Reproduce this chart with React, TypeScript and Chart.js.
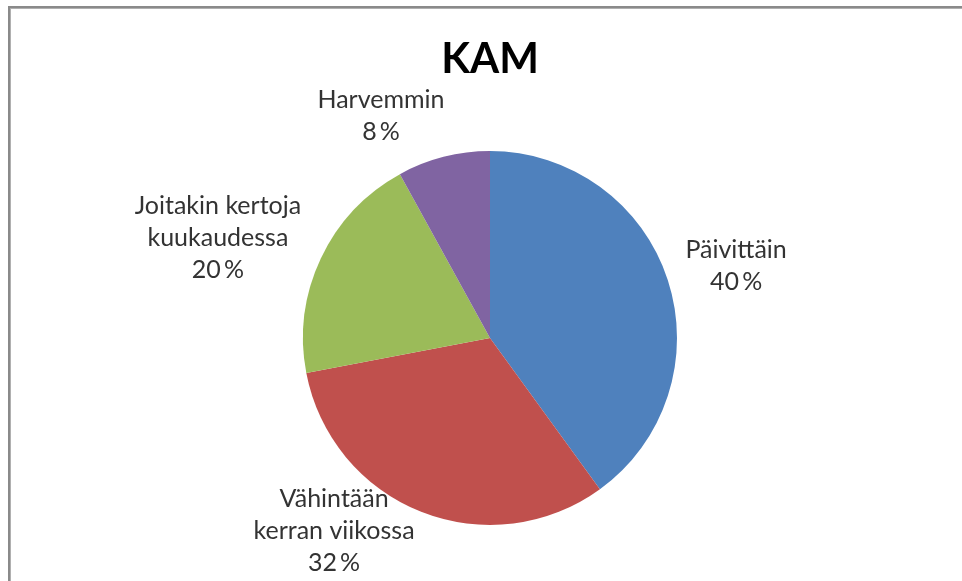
import React, { useEffect, useRef } from "react";
import { Chart, registerables } from "chart.js";

Chart.register(...registerables);

const title = "KAM";
const categories = [
  "Päivittäin",
  "Vähintään kerran viikossa",
  "Joitakin kertoja kuukaudessa",
  "Harvemmin",
];
const labelLines = [
  ["Päivittäin"],
  ["Vähintään", "kerran viikossa"],
  ["Joitakin kertoja", "kuukaudessa"],
  ["Harvemmin"],
];
const values = [40, 32, 20, 8];
const colors = ["#4F81BD", "#C0504D", "#9BBB59", "#8064A2"];

// label block centres relative to pie centre, in units of radius (layout)
const LABEL_OFFSETS = [
  [1.316, -0.39],
  [-0.834, 1.027],
  [-1.455, -0.54],
  [-0.583, -1.193],
];

const FONT = "Lato, 'Open Sans', sans-serif";

const framePlugin = {
  id: "frame",
  beforeDraw(chart: any) {
    const ctx = chart.ctx;
    ctx.save();
    ctx.fillStyle = "#ffffff";
    ctx.fillRect(0, 0, chart.width, chart.height);
    ctx.fillStyle = "#8a8a8a";
    ctx.fillRect(8, 6, chart.width - 8, 2);
    ctx.fillRect(8, 6, 2, chart.height - 6);
    ctx.fillStyle = "#b0b0b0";
    ctx.fillRect(10, 8, chart.width - 10, 1);
    ctx.fillRect(10, 8, 1, chart.height - 8);
    ctx.restore();
  },
};

const labelPlugin = {
  id: "pieLabels",
  afterDraw(chart: any) {
    const ctx = chart.ctx;
    const meta = chart.getDatasetMeta(0);
    const total = values.reduce((a, b) => a + b, 0);
    ctx.save();
    const a0 = meta.data[0];
    const cx = a0.x;
    const cy = a0.y;
    const r = a0.outerRadius;
    ctx.fillStyle = "#000000";
    ctx.font = `bold 42px ${FONT}`;
    ctx.textAlign = "center";
    ctx.textBaseline = "alphabetic";
    ctx.fillText(title, cx, 73);

    ctx.font = `25px ${FONT}`;
    ctx.fillStyle = "#333333";
    const L = 32;
    const capH = 18;
    meta.data.forEach((arc: any, i: number) => {
      const pct = Math.round((values[i] / total) * 100) + "\u2009%";
      const lines = [...labelLines[i], pct];
      const bx = cx + LABEL_OFFSETS[i][0] * r;
      const by = cy + LABEL_OFFSETS[i][1] * r;
      const first = by - ((lines.length - 1) * L) / 2 + capH / 2;
      lines.forEach((t, j) => ctx.fillText(t, bx, first + j * L));
    });
    ctx.restore();
  },
};

export default function App() {
  const ref = useRef<HTMLCanvasElement>(null);
  useEffect(() => {
    if (!ref.current) return;
    const chart = new Chart(ref.current, {
      type: "pie",
      data: {
        labels: categories,
        datasets: [
          {
            data: values,
            backgroundColor: colors,
            borderWidth: 0,
          },
        ],
      },
      options: {
        responsive: false,
        animation: false,
        layout: { padding: { left: 303, right: 285, top: 151, bottom: 56 } },
        plugins: {
          legend: { display: false },
          title: { display: false },
          tooltip: { enabled: false },
        },
      },
      plugins: [framePlugin, labelPlugin],
    });
    return () => chart.destroy();
  }, []);
  return (
    <div style={{ position: "absolute", left: 0, top: 0, width: 962, height: 581 }}>
      <canvas ref={ref} width={962} height={581} style={{ width: 962, height: 581 }} />
    </div>
  );
}
